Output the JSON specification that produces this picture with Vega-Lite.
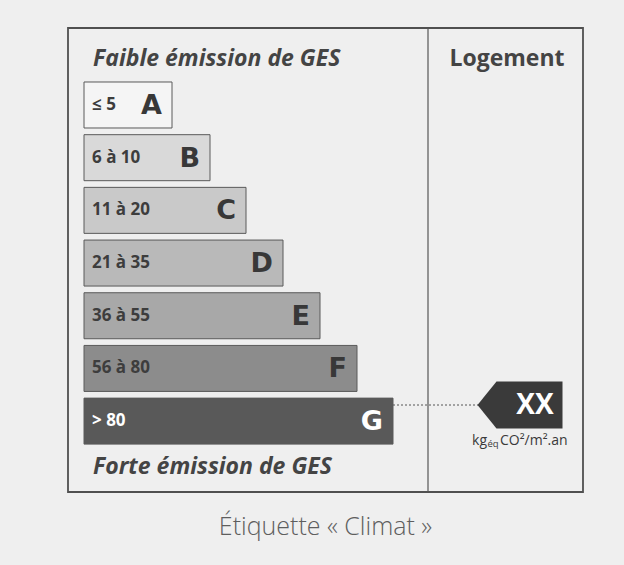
{
  "$schema": "https://vega.github.io/schema/vega-lite/v6.json",
  "width": 515,
  "height": 464,
  "autosize": "none",
  "padding": {"left": 68, "top": 28, "right": 41, "bottom": 73},
  "background": "#efefef",
  "config": {"view": {"stroke": "#505050", "strokeWidth": 1.8}},
  "title": {
    "text": "Étiquette « Climat »",
    "orient": "bottom",
    "anchor": "middle",
    "offset": 22,
    "font": "Open Sans",
    "fontSize": 25,
    "fontWeight": 300,
    "color": "#5e5e5e"
  },
  "datasets": {
    "classes": [
      {"classe": "A", "plage": "≤ 5", "fin": 104},
      {"classe": "B", "plage": "6 à 10", "fin": 142},
      {"classe": "C", "plage": "11 à 20", "fin": 178},
      {"classe": "D", "plage": "21 à 35", "fin": 215},
      {"classe": "E", "plage": "36 à 55", "fin": 252},
      {"classe": "F", "plage": "56 à 80", "fin": 289},
      {"classe": "G", "plage": "> 80", "fin": 325}
    ],
    "logement": [
      {"classe": "G", "valeur": "XX", "fin": 325}
    ]
  },
  "encoding": {
    "y": {
      "field": "classe",
      "type": "nominal",
      "axis": null,
      "scale": {
        "domain": ["haut", "A", "B", "C", "D", "E", "F", "G", "bas"],
        "range": [1.3, 468.8],
        "paddingInner": 0.127,
        "paddingOuter": 0
      }
    }
  },
  "layer": [
    {
      "data": {"name": "classes"},
      "mark": {"type": "bar", "stroke": "#5a5a5a", "strokeWidth": 1},
      "encoding": {
        "x": {"field": "fin", "type": "quantitative", "axis": null, "scale": {"domain": [0, 515], "nice": false, "zero": false}},
        "x2": {"datum": 16},
        "fill": {
          "field": "classe",
          "type": "nominal",
          "legend": null,
          "scale": {
            "domain": ["A", "B", "C", "D", "E", "F", "G"],
            "range": ["#f5f5f5", "#d9d9d9", "#c9c9c9", "#b9b9b9", "#a8a8a8", "#8c8c8c", "#595959"]
          }
        }
      }
    },
    {
      "data": {"name": "classes"},
      "mark": {"type": "text", "align": "left", "baseline": "middle", "dx": 8, "font": "Open Sans", "fontWeight": "bold", "fontSize": 17},
      "encoding": {
        "x": {"datum": 16},
        "text": {"field": "plage"},
        "fill": {"condition": {"test": "datum.classe === 'G'", "value": "#ffffff"}, "value": "#3d3d3d"}
      }
    },
    {
      "data": {"name": "classes"},
      "mark": {"type": "text", "align": "right", "baseline": "middle", "dx": -10, "dy": 1, "font": "DejaVu Sans", "fontWeight": "bold", "fontSize": 27},
      "encoding": {
        "x": {"field": "fin", "type": "quantitative"},
        "text": {"field": "classe"},
        "fill": {"condition": {"test": "datum.classe === 'G'", "value": "#ffffff"}, "value": "#383838"}
      }
    },
    {
      "data": {"values": [{"texte": "Faible émission de GES", "classe": "haut"}]},
      "mark": {"type": "text", "align": "left", "baseline": "middle", "dy": 7, "dx": -2, "font": "Open Sans", "fontWeight": "bold", "fontStyle": "italic", "fontSize": 23, "fill": "#444444"},
      "encoding": {"x": {"datum": 27}, "text": {"field": "texte"}}
    },
    {
      "data": {"values": [{"texte": "Forte émission de GES", "classe": "bas"}]},
      "mark": {"type": "text", "align": "left", "baseline": "middle", "dy": -7, "dx": -2, "font": "Open Sans", "fontWeight": "bold", "fontStyle": "italic", "fontSize": 23, "fill": "#444444"},
      "encoding": {"x": {"datum": 27}, "text": {"field": "texte"}}
    },
    {
      "data": {"values": [{"texte": "Logement", "classe": "haut"}]},
      "mark": {"type": "text", "align": "center", "baseline": "middle", "dy": 7, "font": "Open Sans", "fontWeight": "bold", "fontSize": 23, "fill": "#444444"},
      "encoding": {"x": {"datum": 439}, "text": {"field": "texte"}}
    },
    {
      "data": {"values": [{}]},
      "mark": {"type": "rule", "stroke": "#555555", "strokeWidth": 1.2},
      "encoding": {"x": {"datum": 360}, "y": null}
    },
    {
      "data": {"name": "logement"},
      "mark": {"type": "rule", "stroke": "#555555", "strokeWidth": 1, "strokeDash": [2, 2]},
      "encoding": {
        "x": {"field": "fin", "type": "quantitative"},
        "x2": {"datum": 410},
        "y": {"field": "classe", "type": "nominal", "bandPosition": 0.15}
      }
    },
    {
      "data": {"name": "logement"},
      "mark": {
        "type": "point",
        "filled": true,
        "opacity": 1,
        "fill": "#3a3a3a",
        "size": 7225,
        "shape": "M -1 0 L -0.553 -0.553 L 1 -0.553 L 1 0.553 L -0.553 0.553 Z"
      },
      "encoding": {
        "x": {"datum": 452},
        "y": {"field": "classe", "type": "nominal", "bandPosition": 0.15}
      }
    },
    {
      "data": {"name": "logement"},
      "mark": {"type": "text", "align": "center", "baseline": "middle", "dy": 1, "font": "Open Sans", "fontWeight": "bold", "fontSize": 28, "fill": "#ffffff"},
      "encoding": {
        "x": {"datum": 467},
        "y": {"field": "classe", "type": "nominal", "bandPosition": 0.15},
        "text": {"field": "valeur"}
      }
    },
    {
      "data": {"values": [{"texte": "kg", "classe": "G"}]},
      "mark": {"type": "text", "align": "right", "baseline": "middle", "font": "Open Sans", "fontSize": 14, "fill": "#3a3a3a"},
      "encoding": {"x": {"datum": 419}, "y": {"field": "classe", "type": "nominal", "bandPosition": 0.93}, "text": {"field": "texte"}}
    },
    {
      "data": {"values": [{"texte": "éq", "classe": "G"}]},
      "mark": {"type": "text", "align": "left", "baseline": "middle", "dy": 3, "font": "Open Sans", "fontSize": 9.5, "fill": "#3a3a3a"},
      "encoding": {"x": {"datum": 419.5}, "y": {"field": "classe", "type": "nominal", "bandPosition": 0.93}, "text": {"field": "texte"}}
    },
    {
      "data": {"values": [{"texte": "CO²/m².an", "classe": "G"}]},
      "mark": {"type": "text", "align": "left", "baseline": "middle", "font": "Open Sans", "fontSize": 14, "fill": "#3a3a3a"},
      "encoding": {"x": {"datum": 432}, "y": {"field": "classe", "type": "nominal", "bandPosition": 0.93}, "text": {"field": "texte"}}
    }
  ]
}
